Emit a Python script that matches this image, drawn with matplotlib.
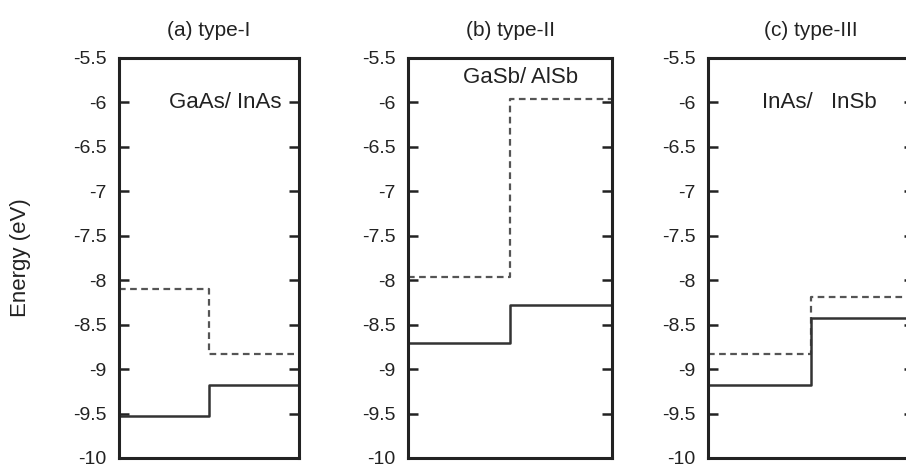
import matplotlib
matplotlib.use("Agg")
import matplotlib.pyplot as plt

plt.rcParams['font.family'] = ['Liberation Sans', 'DejaVu Sans']
plt.rcParams['axes.unicode_minus'] = False

titles = ["(a) type-I", "(b) type-II", "(c) type-III"]
pairs = ["GaAs/ InAs", "GaSb/ AlSb", "InAs/   InSb"]

# band edges, left material then right material (eV)
dashed_a = [-8.10, -8.83]
solid_a = [-9.53, -9.18]
dashed_b = [-7.96, -5.96]
solid_b = [-8.71, -8.28]
dashed_c = [-8.83, -8.19]
solid_c = [-9.18, -8.43]

yticks = [-5.5, -6, -6.5, -7, -7.5, -8, -8.5, -9, -9.5, -10]
ytick_labels = ["-5.5", "-6", "-6.5", "-7", "-7.5", "-8", "-8.5", "-9", "-9.5", "-10"]

W, H = 906, 472
fig = plt.figure(figsize=(W / 100, H / 100), dpi=100)

# panel boxes in pixels: left, width
boxes = [(119, 180), (408, 204), (708, 206)]
top_px, bot_px = 58, 458

dashed = [dashed_a, dashed_b, dashed_c]
solid = [solid_a, solid_b, solid_c]

# where the material label sits (data coords) and how it is aligned
label_pos = [(1.81, -6.0, "right"), (1.10, -5.72, "center"), (0.52, -6.0, "left")]

for i in range(3):
    left, width = boxes[i]
    ax = fig.add_axes([left / W, (H - bot_px) / H, width / W, (bot_px - top_px) / H])
    d = dashed[i]
    s = solid[i]
    ax.step([0, 1, 2], [d[0], d[1], d[1]], where="post", color="#555555",
            lw=1.6, linestyle=(0, (3, 2)))
    ax.step([0, 1, 2], [s[0], s[1], s[1]], where="post", color="#333333", lw=1.8)
    ax.set_xlim(0, 2)
    ax.set_ylim(-10, -5.5)
    ax.set_xticks([])
    ax.set_yticks(yticks)
    ax.set_yticklabels(ytick_labels)
    ax.tick_params(axis="y", direction="in", left=True, right=True, length=7,
                   width=1.8, pad=9, labelsize=14, colors="#222222")
    for sp in ax.spines.values():
        sp.set_linewidth(2.2)
        sp.set_color("#222222")
    ax.set_title(titles[i], fontsize=15, pad=16, color="#222222")
    x, y, ha = label_pos[i]
    ax.text(x, y, pairs[i], ha=ha, va="center", fontsize=16, color="#222222")
    if i == 0:
        ax.set_ylabel("Energy (eV)", fontsize=16, color="#222222")
        ax.yaxis.set_label_coords(-0.49, 0.5)

fig.savefig("out.png", dpi=100)
